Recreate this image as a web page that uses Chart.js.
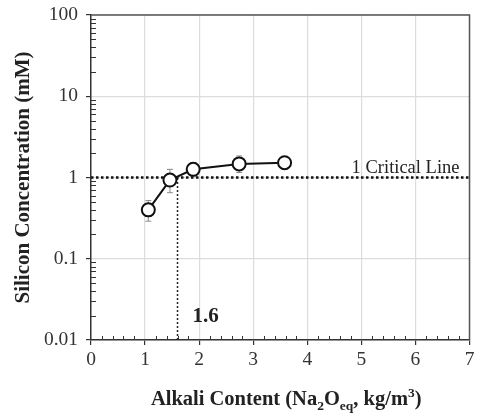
<!DOCTYPE html>
<html lang="en">
<head>
    <meta charset="UTF-8">
    <title>Silicon Concentration vs Alkali Content</title>
    <script src="https://cdn.jsdelivr.net/npm/chart.js"></script>
    <style>
        html, body { margin: 0; padding: 0; background: #fff; }
        #wrap { width: 478px; height: 416px; }
    </style>
</head>
<body>
    <div id="wrap"><canvas id="siChart" width="478" height="416"></canvas></div>

    <script>
        // data
        const alkali = [1.06, 1.46, 1.89, 2.74, 3.58];
        const silicon = [0.40, 0.93, 1.26, 1.47, 1.52];
        const errUpper = [0.52, 1.26, 1.52, 1.84, 1.65];
        const errLower = [0.29, 0.65, 1.05, 1.15, 1.40];
        const yTicks = [0.01, 0.1, 1, 10, 100];
        const criticalLevel = 1;
        const thresholdAlkali = 1.6;
        const xMin = 0, xMax = 7;

        const serif = '"Liberation Serif", "Times New Roman", serif';

        // error bars, minor ticks, frame, labels and axis titles
        const overlay = {
            id: 'overlay',
            beforeDatasetsDraw(chart) {
                const ctx = chart.ctx;
                const xs = chart.scales.x, ys = chart.scales.y;
                ctx.save();
                ctx.strokeStyle = '#8a8a8a';
                ctx.lineWidth = 1;
                for (let i = 0; i < alkali.length; i++) {
                    const px = xs.getPixelForValue(alkali[i]);
                    const top = ys.getPixelForValue(errUpper[i]);
                    const bot = ys.getPixelForValue(errLower[i]);
                    ctx.beginPath();
                    ctx.moveTo(px, top); ctx.lineTo(px, bot);
                    ctx.moveTo(px - 3, top); ctx.lineTo(px + 3, top);
                    ctx.moveTo(px - 3, bot); ctx.lineTo(px + 3, bot);
                    ctx.stroke();
                }
                ctx.restore();
            },
            afterDraw(chart) {
                const ctx = chart.ctx;
                const a = chart.chartArea;
                const xs = chart.scales.x, ys = chart.scales.y;
                ctx.save();

                // frame on top and right
                ctx.strokeStyle = '#555';
                ctx.lineWidth = 1.5;
                ctx.beginPath();
                ctx.moveTo(a.left, a.top); ctx.lineTo(a.right, a.top); ctx.lineTo(a.right, a.bottom);
                ctx.stroke();

                // minor ticks, pointing inward
                ctx.strokeStyle = '#333';
                ctx.lineWidth = 1;
                ctx.beginPath();
                for (let d = 0; d < yTicks.length - 1; d++) {
                    for (let m = 2; m <= 9; m++) {
                        const py = Math.round(ys.getPixelForValue(yTicks[d] * m)) + 0.5;
                        ctx.moveTo(a.left, py); ctx.lineTo(a.left + 5, py);
                    }
                }
                for (let k = 1; k < (xMax - xMin) * 5; k++) {
                    if (k % 5 === 0) continue;
                    const px = Math.round(xs.getPixelForValue(xMin + k * 0.2)) + 0.5;
                    ctx.moveTo(px, a.bottom); ctx.lineTo(px, a.bottom - 4);
                }
                ctx.stroke();

                // annotations
                ctx.fillStyle = '#222';
                ctx.font = '18.5px ' + serif;
                ctx.textAlign = 'right';
                ctx.textBaseline = 'alphabetic';
                ctx.fillText('1 Critical Line', a.right - 10, ys.getPixelForValue(criticalLevel) - 5);

                ctx.font = 'bold 21px ' + serif;
                ctx.textAlign = 'left';
                ctx.textBaseline = 'middle';
                ctx.fillText('1.6', xs.getPixelForValue(thresholdAlkali) + 15, 317);

                // y title
                ctx.save();
                ctx.translate(24, (a.top + a.bottom) / 2);
                ctx.rotate(-Math.PI / 2);
                ctx.font = 'bold 21px ' + serif;
                ctx.textAlign = 'center';
                ctx.textBaseline = 'middle';
                ctx.fillText('Silicon Concentration (mM)', 0, 0);
                ctx.restore();

                // x title with sub/superscripts
                const parts = [
                    ['Alkali Content (Na', 0], ['2', 1], ['O', 0], ['eq', 1],
                    [', kg/m', 0], ['3', -1], [')', 0]
                ];
                const big = 'bold 20.5px ' + serif, small = 'bold 13.5px ' + serif;
                let total = 0;
                parts.forEach(p => { ctx.font = p[1] ? small : big; total += ctx.measureText(p[0]).width; });
                let cx = (a.left + a.right) / 2 + 6 - total / 2;
                const base = 405;
                ctx.textAlign = 'left';
                ctx.textBaseline = 'alphabetic';
                parts.forEach(p => {
                    ctx.font = p[1] ? small : big;
                    const dy = p[1] === 1 ? 5 : (p[1] === -1 ? -8 : 0);
                    ctx.fillText(p[0], cx, base + dy);
                    cx += ctx.measureText(p[0]).width;
                });

                ctx.restore();
            }
        };

        const ctx = document.getElementById('siChart').getContext('2d');
        const siChart = new Chart(ctx, {
            type: 'scatter',
            data: {
                datasets: [
                    {
                        label: 'Silicon',
                        data: alkali.map((x, i) => ({ x: x, y: silicon[i] })),
                        showLine: true,
                        borderColor: '#111',
                        borderWidth: 2,
                        backgroundColor: '#fff',
                        pointBackgroundColor: '#fff',
                        pointBorderColor: '#111',
                        pointBorderWidth: 2,
                        pointRadius: 6.5,
                        order: 0
                    },
                    {
                        label: 'Critical line',
                        data: [{ x: xMin, y: criticalLevel }, { x: xMax, y: criticalLevel }],
                        showLine: true,
                        borderColor: '#111',
                        borderWidth: 2.5,
                        borderDash: [2.5, 2.5],
                        pointRadius: 0,
                        order: 2
                    },
                    {
                        label: 'Threshold',
                        data: [{ x: thresholdAlkali, y: yTicks[0] }, { x: thresholdAlkali, y: criticalLevel }],
                        showLine: true,
                        borderColor: '#222',
                        borderWidth: 1.5,
                        borderDash: [2, 2],
                        pointRadius: 0,
                        order: 3
                    }
                ]
            },
            options: {
                responsive: false,
                animation: false,
                layout: { padding: { top: 15, right: 7, left: 0, bottom: 0 } },
                plugins: { legend: { display: false }, tooltip: { enabled: false } },
                scales: {
                    x: {
                        type: 'linear',
                        min: xMin,
                        max: xMax,
                        ticks: { stepSize: 1, color: '#333', font: { family: serif, size: 19.5 }, padding: 3 },
                        grid: { color: '#dcdcdc', tickColor: '#333', tickLength: 5, lineWidth: 1.2 },
                        border: { color: '#333', width: 1.5 },
                        afterFit(scale) {
                            scale.height = 76;
                            scale.paddingLeft = 0;
                            scale.paddingRight = 0;
                        }
                    },
                    y: {
                        type: 'logarithmic',
                        min: yTicks[0],
                        max: yTicks[yTicks.length - 1],
                        afterBuildTicks(scale) { scale.ticks = yTicks.map(v => ({ value: v })); },
                        ticks: {
                            color: '#333',
                            font: { family: serif, size: 19.5 },
                            padding: 8,
                            callback: v => String(v)
                        },
                        grid: { color: '#dcdcdc', tickColor: '#333', tickLength: 5, lineWidth: 1.2 },
                        border: { color: '#333', width: 1.5 },
                        afterFit(scale) {
                            scale.width = 91;
                            scale.paddingTop = 0;
                            scale.paddingBottom = 0;
                        }
                    }
                }
            },
            plugins: [overlay]
        });
    </script>
</body>
</html>
